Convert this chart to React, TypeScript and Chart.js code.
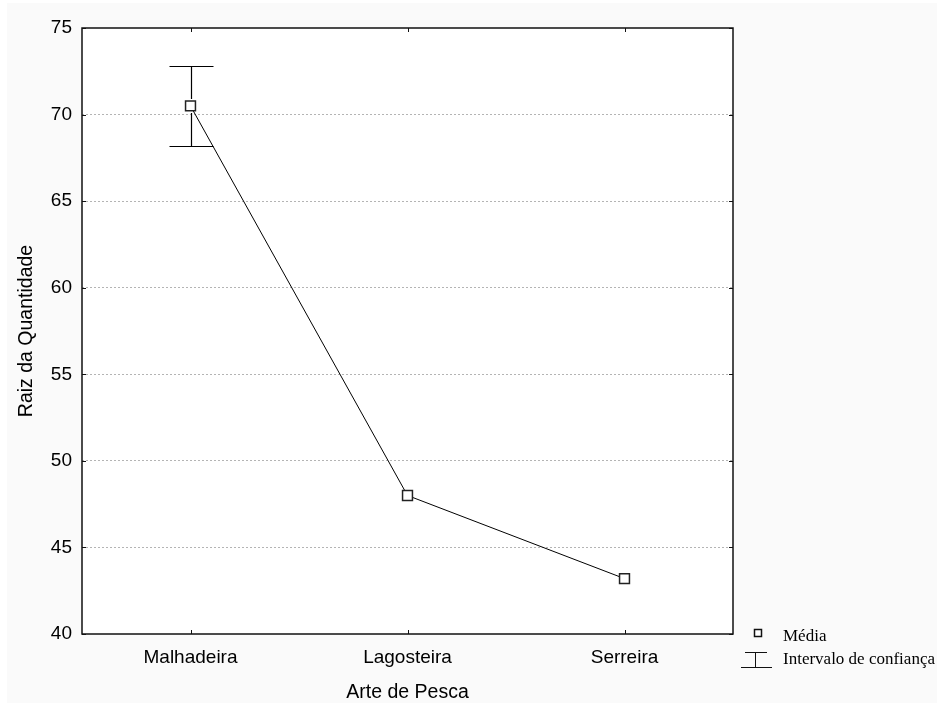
import React, { useEffect, useRef } from "react";
import { Chart, registerables } from "chart.js";

Chart.register(...registerables);

const categories = ["Malhadeira", "Lagosteira", "Serreira"];
const means = [70.5, 48.0, 43.2];
const ciLower: (number | null)[] = [68.2, null, null];
const ciUpper: (number | null)[] = [72.8, null, null];
const yTicks = [40, 45, 50, 55, 60, 65, 70, 75];
const yTitle = "Raiz da Quantidade";
const xTitle = "Arte de Pesca";
const legendMean = "Média";
const legendCI = "Intervalo de confiança";

const SANS = "'Liberation Sans', Arial, sans-serif";

const bgPlugin = {
  id: "bgPlugin",
  beforeDraw(chart: any) {
    const { ctx, chartArea, width, height } = chart;
    ctx.save();
    ctx.fillStyle = "#ffffff";
    ctx.fillRect(0, 0, width, height);
    ctx.fillStyle = "#fafafa";
    ctx.fillRect(7, 3, width - 9, height - 4);
    ctx.fillStyle = "#ffffff";
    ctx.fillRect(chartArea.left, chartArea.top, chartArea.right - chartArea.left, chartArea.bottom - chartArea.top);
    ctx.restore();
  },
  afterDatasetsDraw(chart: any) {
    const { ctx, chartArea, scales } = chart;
    const x = scales.x;
    const y = scales.y;
    ctx.save();
    // error bars
    ctx.strokeStyle = "#000";
    ctx.lineWidth = 1.2;
    categories.forEach((_, i) => {
      const lo = ciLower[i];
      const hi = ciUpper[i];
      if (lo == null || hi == null) return;
      const px = Math.round(x.getPixelForValue(i)) + 0.5;
      const yLo = Math.round(y.getPixelForValue(lo)) + 0.5;
      const yHi = Math.round(y.getPixelForValue(hi)) + 0.5;
      const ym = y.getPixelForValue(means[i]);
      ctx.beginPath();
      ctx.moveTo(px, yHi);
      ctx.lineTo(px, ym - 7);
      ctx.moveTo(px, ym + 7);
      ctx.lineTo(px, yLo);
      ctx.moveTo(px - 22, yHi);
      ctx.lineTo(px + 22, yHi);
      ctx.moveTo(px - 22, yLo);
      ctx.lineTo(px + 22, yLo);
      ctx.stroke();
    });
    // frame
    ctx.strokeStyle = "#111";
    ctx.lineWidth = 1.5;
    ctx.strokeRect(chartArea.left, chartArea.top, chartArea.right - chartArea.left, chartArea.bottom - chartArea.top);
    // inner ticks
    ctx.lineWidth = 1;
    ctx.beginPath();
    yTicks.forEach((t) => {
      const py = Math.round(y.getPixelForValue(t)) + 0.5;
      ctx.moveTo(chartArea.left, py);
      ctx.lineTo(chartArea.left + 4, py);
      ctx.moveTo(chartArea.right, py);
      ctx.lineTo(chartArea.right - 4, py);
    });
    categories.forEach((_, i) => {
      const px = Math.round(x.getPixelForValue(i)) + 0.5;
      ctx.moveTo(px, chartArea.bottom);
      ctx.lineTo(px, chartArea.bottom - 4);
      ctx.moveTo(px, chartArea.top);
      ctx.lineTo(px, chartArea.top + 4);
    });
    ctx.stroke();
    // legend
    ctx.strokeStyle = "#111";
    ctx.fillStyle = "#fff";
    ctx.lineWidth = 1.5;
    ctx.fillRect(754.5, 629.5, 7, 7);
    ctx.strokeRect(754.5, 629.5, 7, 7);
    ctx.lineWidth = 1;
    ctx.beginPath();
    ctx.moveTo(745, 652.5);
    ctx.lineTo(767, 652.5);
    ctx.moveTo(755.5, 652.5);
    ctx.lineTo(755.5, 667.5);
    ctx.moveTo(741, 667.5);
    ctx.lineTo(772, 667.5);
    ctx.stroke();
    ctx.fillStyle = "#000";
    ctx.font = "17px 'Liberation Serif', 'DejaVu Serif', serif";
    ctx.textBaseline = "middle";
    ctx.textAlign = "left";
    ctx.fillText(legendMean, 783, 637);
    ctx.fillText(legendCI, 783, 660);
    ctx.restore();
  },
};

export default function App() {
  const ref = useRef<HTMLCanvasElement | null>(null);
  useEffect(() => {
    if (!ref.current) return;
    const chart = new Chart(ref.current, {
      type: "line",
      data: {
        labels: categories,
        datasets: [
          {
            label: legendMean,
            data: means,
            borderColor: "#000",
            borderWidth: 1,
            pointStyle: "rect",
            pointRadius: 7,
            pointBorderWidth: 1.5,
            pointBorderColor: "#222",
            pointBackgroundColor: "#fff",
            tension: 0,
            fill: false,
          },
        ],
      },
      plugins: [bgPlugin],
      options: {
        animation: false,
        responsive: false,
        maintainAspectRatio: false,
        layout: { padding: { left: 0, top: 28, right: 206, bottom: 0 } },
        plugins: { legend: { display: false }, tooltip: { enabled: false } },
        scales: {
          x: {
            type: "category",
            offset: true,
            grid: { display: false, drawTicks: false },
            border: { display: false },
            ticks: {
              color: "#000",
              font: { family: SANS, size: 19 },
              padding: 12,
            },
            title: {
              display: true,
              text: xTitle,
              color: "#000",
              font: { family: SANS, size: 19.5 },
              padding: { top: 6, bottom: 0 },
            },
            afterFit(scale: any) {
              scale.height = 70;
            },
          },
          y: {
            min: 40,
            max: 75,
            afterBuildTicks(scale: any) {
              scale.ticks = yTicks.map((v) => ({ value: v }));
            },
            grid: {
              drawTicks: false,
              color: (c: any) =>
                c.tick && (c.tick.value === 40 || c.tick.value === 75) ? "rgba(0,0,0,0)" : "#b4b4b4",
              lineWidth: 1,
            },
            border: { display: false, dash: [2, 2] },
            ticks: {
              color: "#000",
              font: { family: SANS, size: 19 },
              padding: 10,
            },
            title: {
              display: true,
              text: yTitle,
              color: "#000",
              font: { family: SANS, size: 19.5 },
              padding: { top: 15, bottom: 0 },
            },
            afterFit(scale: any) {
              scale.width = 82;
            },
          },
        },
      },
    });
    return () => chart.destroy();
  }, []);
  return (
    <div style={{ position: "absolute", left: 0, top: 0, width: 939, height: 704 }}>
      <canvas ref={ref} width={939} height={704} style={{ width: 939, height: 704 }} />
    </div>
  );
}
